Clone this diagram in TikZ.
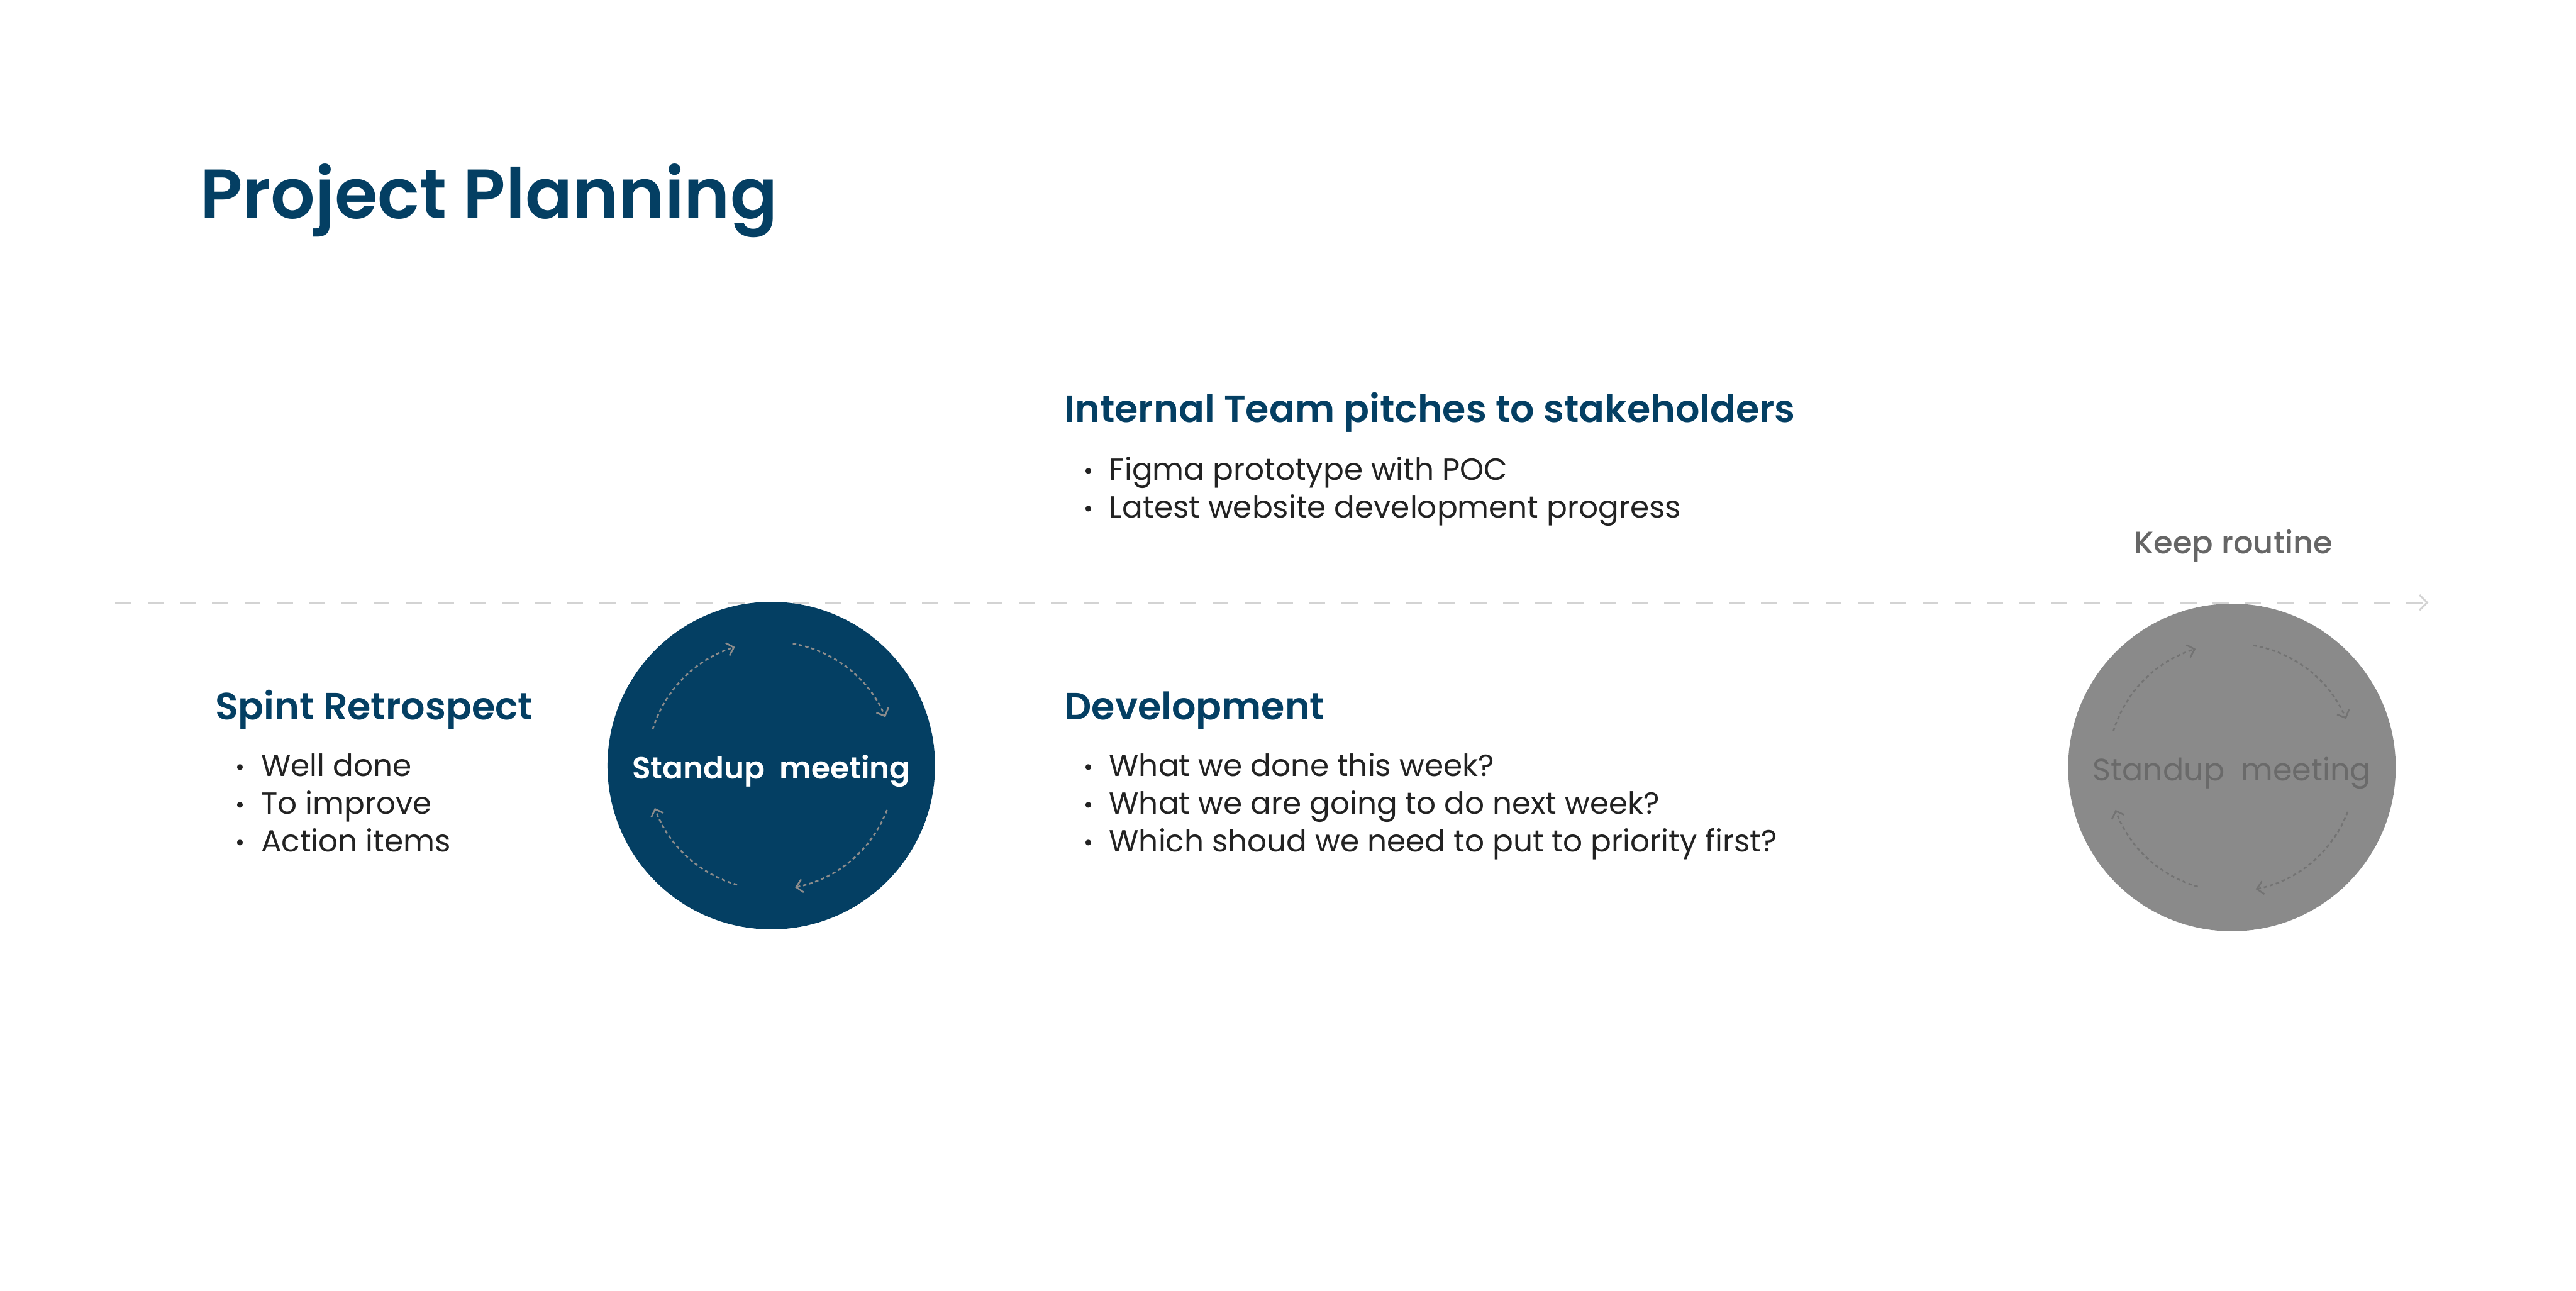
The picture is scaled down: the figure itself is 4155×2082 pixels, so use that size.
\documentclass[tikz,border=0pt]{standalone}
\usepackage{fontspec}
\setmainfont{Poppins}
\newfontfamily\psemi{Poppins SemiBold}
\newfontfamily\pmed{Poppins Medium}
\usetikzlibrary{arrows.meta}
\definecolor{navy}{HTML}{043F63}
\definecolor{ink}{HTML}{222222}
\definecolor{lightline}{HTML}{D3D3D3}
\definecolor{greycirc}{HTML}{8A8A8A}
\definecolor{greytext}{HTML}{6A6A6A}
\definecolor{arcblue}{HTML}{8C8C8C}
\definecolor{arcgrey}{HTML}{737373}
\definecolor{keepgrey}{HTML}{666666}
\tikzset{
  txt/.style={anchor=base west, inner sep=0pt, outer sep=0pt},
  titlestyle/.style={txt, text=navy, font=\psemi\fontsize{32}{36}\selectfont},
  headstyle/.style={txt, text=navy, font=\psemi\fontsize{17.4}{21}\selectfont},
  itemstyle/.style={txt, text=ink, font=\fontsize{14}{17}\selectfont},
  bulletstyle/.style={txt, text=ink, font=\fontsize{10.5}{13}\selectfont},
  dashline/.style={draw=lightline, line width=0.85pt, dash pattern=on 7.4pt off 7.4pt},
  bluecirc/.style={circle, fill=navy, minimum size=5.28cm, inner sep=0pt},
  greycircle/.style={circle, fill=greycirc, minimum size=5.28cm, inner sep=0pt},
  bluelabel/.style={inner sep=0pt, text=white, font=\psemi\fontsize{14}{17}\selectfont},
  greylabel/.style={inner sep=0pt, text=greytext, font=\fontsize{14.2}{17}\selectfont},
  cyc/.style={line width=0.75pt, dash pattern=on 1.6pt off 1.3pt, -{Straight Barb[length=3pt,width=6pt]}},
}
\begin{document}
\begin{tikzpicture}[x=0.01cm,y=-0.01cm]
\useasboundingbox (0,0) rectangle (4155,2082);

% title
\node[titlestyle] (title) at (323,353) {Project Planning};

% timeline
\coordinate (ls) at (186,972);
\coordinate (le) at (3917,972);
\draw[dashline, -{Straight Barb[length=3.5pt,width=7pt]}] (ls) -- (le);
\node[txt, text=keepgrey, font=\pmed\fontsize{14.3}{17}\selectfont] (keep) at (3442,893) {Keep routine};

% pitch block
\node[headstyle] (pitch) at (1717,681) {Internal Team pitches to stakeholders};
\node[bulletstyle] (pb1) at (1748,772) {•};
\node[itemstyle] (p1) at (1789,774) {Figma prototype with POC};
\node[bulletstyle] (pb2) at (1748,833) {•};
\node[itemstyle] (p2) at (1789,835) {Latest website development progress};

% retrospect block
\node[headstyle] (retro) at (347,1161) {Spint Retrospect};
\node[bulletstyle] (rb1) at (380,1250) {•};
\node[itemstyle] (r1) at (421,1252) {Well done};
\node[bulletstyle] (rb2) at (380,1311) {•};
\node[itemstyle] (r2) at (421,1313) {To improve};
\node[bulletstyle] (rb3) at (380,1372) {•};
\node[itemstyle] (r3) at (421,1374) {Action items};

% development block
\node[headstyle] (dev) at (1717,1161) {Development};
\node[bulletstyle] (db1) at (1748,1250) {•};
\node[itemstyle] (d1) at (1789,1252) {What we done this week?};
\node[bulletstyle] (db2) at (1748,1311) {•};
\node[itemstyle] (d2) at (1789,1313) {What we are going to do next week?};
\node[bulletstyle] (db3) at (1748,1372) {•};
\node[itemstyle] (d3) at (1789,1374) {Which shoud we need to put to priority first?};

% circles
\node[bluecirc] (c1) at (1244,1235) {};
\node[bluelabel] (c1t) at ([yshift=-0.09cm]c1.center) {Standup\ \ meeting};
\node[greycircle] (c2) at (3600,1238) {};
\node[greylabel] (c2t) at ([yshift=-0.09cm]c2.center) {Standup\ \ meeting};

\foreach \c/\col in {c1/arcblue, c2/arcgrey}{
  \draw[cyc, draw=\col] ([shift={(-163:200)}]\c.center) arc[start angle=-163, end angle=-107, radius=200];
  \draw[cyc, draw=\col] ([shift={(-80:200)}]\c.center) arc[start angle=-80, end angle=-23, radius=200];
  \draw[cyc, draw=\col] ([shift={(21:200)}]\c.center) arc[start angle=21, end angle=79, radius=200];
  \draw[cyc, draw=\col] ([shift={(106:200)}]\c.center) arc[start angle=106, end angle=160, radius=200];
}
\end{tikzpicture}
\end{document}
